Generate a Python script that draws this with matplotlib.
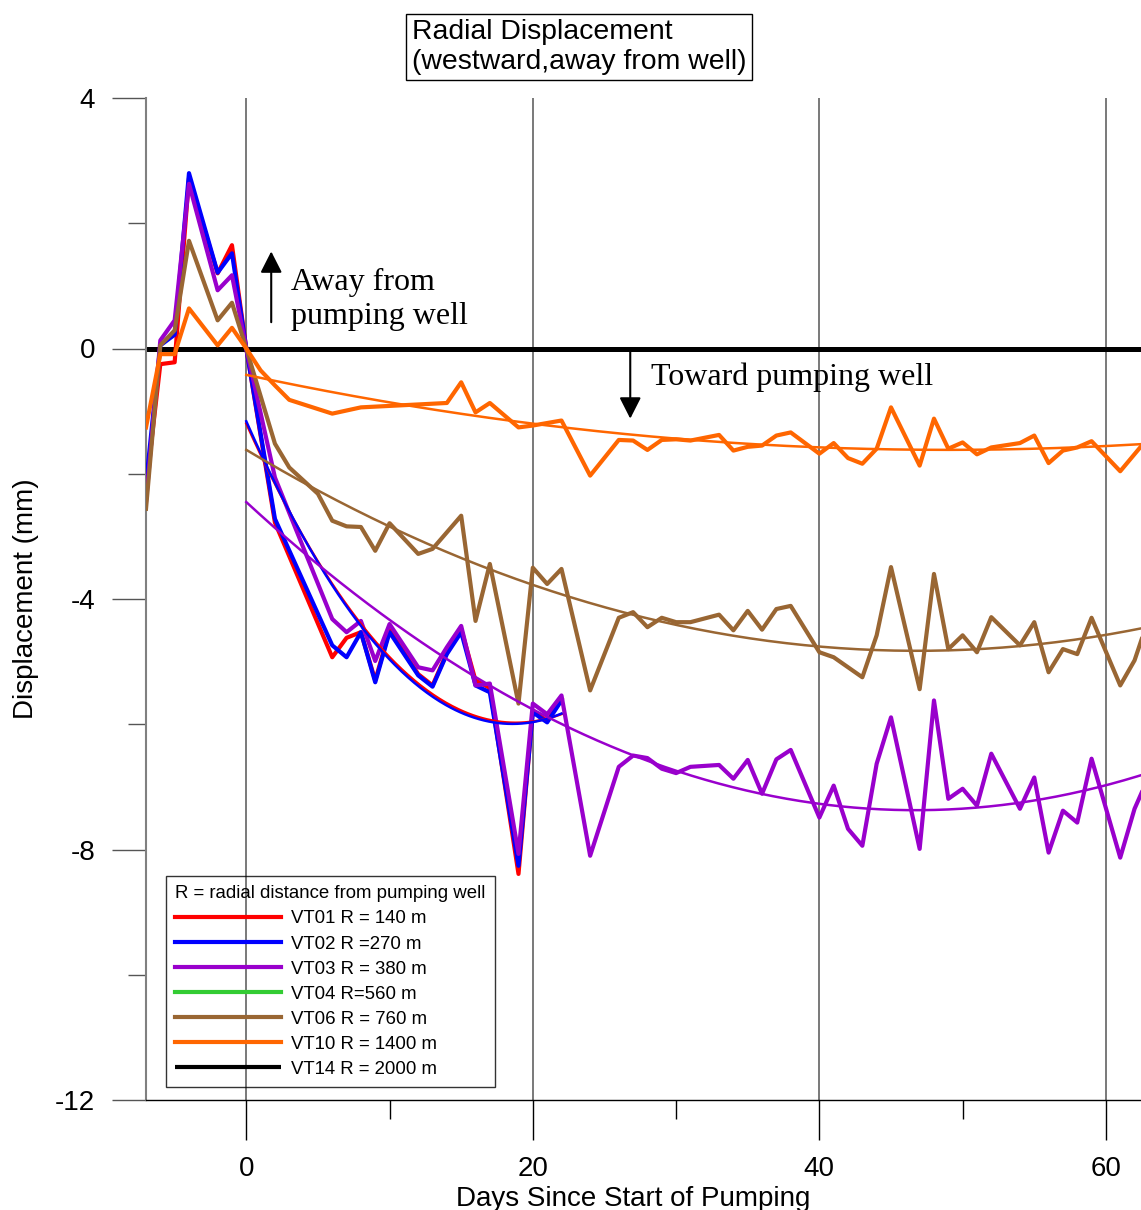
import numpy as np
import matplotlib.pyplot as plt

plt.rcParams['font.family'] = ['Liberation Sans', 'DejaVu Sans']
plt.rcParams['axes.unicode_minus'] = False

# survey days relative to start of pumping, radial displacement in mm
vt01_days = [-7, -6, -5, -4, -2, -1, 0, 2, 6, 7, 8, 9, 10, 12, 13, 14, 15, 16, 17, 19, 20, 21, 22]
vt01_disp = [-2.24, -0.25, -0.22, 2.72, 1.20, 1.65, 0.0, -2.78, -4.93, -4.62, -4.53, -5.30, -4.50,
             -5.20, -5.38, -4.86, -4.48, -5.30, -5.42, -8.39, -5.78, -5.95, -5.60]

vt02_days = [-7, -6, -5, -4, -2, -1, 0, 2, 6, 7, 8, 9, 10, 12, 13, 14, 15, 16, 17, 19, 20, 21, 22]
vt02_disp = [-2.16, 0.05, 0.22, 2.80, 1.21, 1.52, 0.0, -2.72, -4.74, -4.93, -4.53, -5.33, -4.53,
             -5.22, -5.40, -4.88, -4.53, -5.38, -5.49, -8.26, -5.81, -5.97, -5.62]

vt03_days = [-7, -6, -5, -4, -2, -1, 0, 2, 6, 7, 8, 9, 10, 12, 13, 14, 15, 16, 17, 19, 20, 21, 22,
             24, 26, 27, 28, 29, 30, 31, 33, 34, 35, 36, 37, 38, 40, 41, 42, 43, 44, 45, 47, 48,
             49, 50, 51, 52, 54, 55, 56, 57, 58, 59, 61, 62, 62.5]
vt03_disp = [-2.45, 0.13, 0.45, 2.63, 0.93, 1.17, 0.0, -2.06, -4.32, -4.53, -4.35, -4.99, -4.40,
             -5.09, -5.14, -4.77, -4.43, -5.38, -5.35, -8.07, -5.67, -5.84, -5.54,
             -8.10, -6.68, -6.50, -6.54, -6.71, -6.78, -6.68, -6.65, -6.87, -6.57, -7.11, -6.56,
             -6.41, -7.49, -6.98, -7.67, -7.94, -6.63, -5.89, -7.99, -5.62,
             -7.19, -7.03, -7.30, -6.47, -7.35, -6.85, -8.05, -7.38, -7.57, -6.55, -8.13, -7.35, -7.09]

vt04_days = []
vt04_disp = []

vt06_days = [-7, -6, -5, -4, -2, -1, 0, 2, 3, 5, 6, 7, 8, 9, 10, 12, 13, 15, 16, 17, 19, 20, 21,
             22, 24, 26, 27, 28, 29, 30, 31, 33, 34, 35, 36, 37, 38, 40, 41, 42, 43, 44, 45, 47,
             48, 49, 50, 51, 52, 54, 55, 56, 57, 58, 59, 61, 62, 62.5]
vt06_disp = [-2.56, 0.05, 0.29, 1.72, 0.45, 0.73, 0.0, -1.52, -1.90, -2.32, -2.75, -2.84, -2.85,
             -3.23, -2.79, -3.28, -3.20, -2.67, -4.35, -3.44, -5.67, -3.50, -3.76,
             -3.52, -5.46, -4.30, -4.21, -4.45, -4.30, -4.37, -4.37, -4.25, -4.50, -4.19, -4.49,
             -4.16, -4.11, -4.85, -4.93, -5.09, -5.25, -4.58, -3.49, -5.44,
             -3.60, -4.80, -4.58, -4.85, -4.29, -4.74, -4.37, -5.17, -4.80, -4.88, -4.30, -5.38,
             -4.98, -4.64]

vt10_days = [-7, -6, -5, -4, -2, -1, 0, 1, 2, 3, 6, 8, 14, 15, 16, 17, 19, 20, 22, 24, 26, 27,
             28, 29, 30, 31, 33, 34, 35, 36, 37, 38, 40, 41, 42, 43, 44, 45, 47, 48, 49, 50, 51,
             52, 54, 55, 56, 57, 58, 59, 61, 62.5]
vt10_disp = [-1.26, -0.09, -0.09, 0.64, 0.05, 0.33, 0.0, -0.35, -0.59, -0.82, -1.04, -0.94,
             -0.87, -0.54, -1.02, -0.87, -1.26, -1.23, -1.15, -2.03, -1.46, -1.47,
             -1.62, -1.46, -1.45, -1.47, -1.38, -1.63, -1.57, -1.55, -1.39, -1.34, -1.68, -1.51,
             -1.75, -1.84, -1.60, -0.94, -1.87, -1.12, -1.60, -1.50, -1.69,
             -1.58, -1.51, -1.39, -1.83, -1.63, -1.58, -1.48, -1.96, -1.55]

vt14_days = [-7, 63]
vt14_disp = [0.0, 0.0]

RED = '#FF0000'
BLUE = '#0000FF'
PURPLE = '#9900CC'
GREEN = '#33CC33'
BROWN = '#996633'
ORANGE = '#FF6600'


def trend(days, disp, x_end):
    # quadratic trend through the readings taken after pumping began
    d = np.asarray(days, dtype=float)
    v = np.asarray(disp, dtype=float)
    keep = d >= 0
    coef = np.polyfit(d[keep], v[keep], 2)
    xs = np.linspace(0, x_end, 200)
    return xs, np.polyval(coef, xs)


fig = plt.figure(figsize=(11.41, 12.10), dpi=100)
ax = fig.add_axes([146 / 1141, 110 / 1210, 995 / 1141, 1002 / 1210])

ax.set_xlim(-7, 62.45)
ax.set_ylim(-12, 4)

h14, = ax.plot(vt14_days, vt14_disp, color='black', lw=3.6, solid_capstyle='butt', zorder=2)
h01, = ax.plot(vt01_days, vt01_disp, color=RED, lw=3, zorder=3)
h02, = ax.plot(vt02_days, vt02_disp, color=BLUE, lw=3, zorder=3)
h03, = ax.plot(vt03_days, vt03_disp, color=PURPLE, lw=3, zorder=3)
h04, = ax.plot(vt04_days, vt04_disp, color=GREEN, lw=3, zorder=3)
h06, = ax.plot(vt06_days, vt06_disp, color=BROWN, lw=3, zorder=3)
h10, = ax.plot(vt10_days, vt10_disp, color=ORANGE, lw=3, zorder=3)

for days, disp, color, x_end in [(vt01_days, vt01_disp, RED, 22),
                                  (vt02_days, vt02_disp, BLUE, 22),
                                  (vt03_days, vt03_disp, PURPLE, 62.5),
                                  (vt06_days, vt06_disp, BROWN, 62.5),
                                  (vt10_days, vt10_disp, ORANGE, 62.5)]:
    xs, ys = trend(days, disp, x_end)
    ax.plot(xs, ys, color=color, lw=1.8, zorder=3)

# axes styling
for side in ['top', 'right']:
    ax.spines[side].set_visible(False)
ax.spines['left'].set_color('#808080')
ax.spines['left'].set_linewidth(1.5)
ax.spines['bottom'].set_color('black')
ax.spines['bottom'].set_linewidth(1)

ax.set_xticks([0, 20, 40, 60])
ax.set_xticks([10, 30, 50], minor=True)
ax.set_yticks([4, 0, -4, -8, -12])
ax.set_yticks([2, -2, -6, -10], minor=True)
ax.tick_params(axis='x', which='major', length=29, width=1, color='black', pad=11, labelsize=20)
ax.tick_params(axis='x', which='minor', length=14, width=1, color='black')
ax.tick_params(axis='y', which='major', length=24.5, width=1, color='#555555', pad=12, labelsize=20)
ax.tick_params(axis='y', which='minor', length=13, width=1, color='#555555')

ax.xaxis.grid(True, which='major', color='#555555', lw=1.1)
ax.set_axisbelow(True)

ax.set_xlabel('Days Since Start of Pumping', fontsize=20)
ax.xaxis.set_label_coords((633.5 - 146) / 995, -0.086)
ax.set_ylabel('Displacement (mm)', fontsize=20)
ax.yaxis.set_label_coords(-0.108, 0.5)

# direction arrows and notes
arrow = dict(arrowstyle='-|>,head_length=0.65,head_width=0.33', color='black', lw=1.5,
             shrinkA=0, shrinkB=0, mutation_scale=20)
ax.annotate('', xy=(1.74, 1.55), xytext=(1.74, 0.42), arrowprops=arrow)
ax.text(3.14, 0.78, 'Away from\npumping well', family='Liberation Serif', fontsize=23,
        ha='left', va='center', linespacing=1.25)
ax.annotate('', xy=(26.8, -1.12), xytext=(26.8, 0.0), arrowprops=arrow)
ax.text(28.26, -0.46, 'Toward pumping well', family='Liberation Serif', fontsize=23,
        ha='left', va='center')

leg = ax.legend([h01, h02, h03, h04, h06, h10, h14],
                ['VT01 R = 140 m', 'VT02 R =270 m', 'VT03 R = 380 m', 'VT04 R=560 m',
                 'VT06 R = 760 m', 'VT10 R = 1400 m', 'VT14 R = 2000 m'],
                title='R = radial distance from pumping well', title_fontsize=13.4,
                fontsize=13.4, loc='lower left', bbox_to_anchor=(0.0201, 0.013),
                borderaxespad=0, handlelength=5.7, handletextpad=0.5, labelspacing=0.43,
                borderpad=0.5, fancybox=False, frameon=True, alignment='left')
leg.get_frame().set_edgecolor('black')
leg.get_frame().set_linewidth(1)
leg.get_frame().set_facecolor('none')
for line in leg.get_lines():
    line.set_linewidth(3)

fig.text(412 / 1141, 1 - 47 / 1210, 'Radial Displacement\n(westward,away from well)',
         fontsize=20.4, ha='left', va='center', linespacing=1.18,
         bbox=dict(boxstyle='square,pad=0.2', facecolor='white', edgecolor='black', lw=1))

fig.savefig('out.png', dpi=100)
